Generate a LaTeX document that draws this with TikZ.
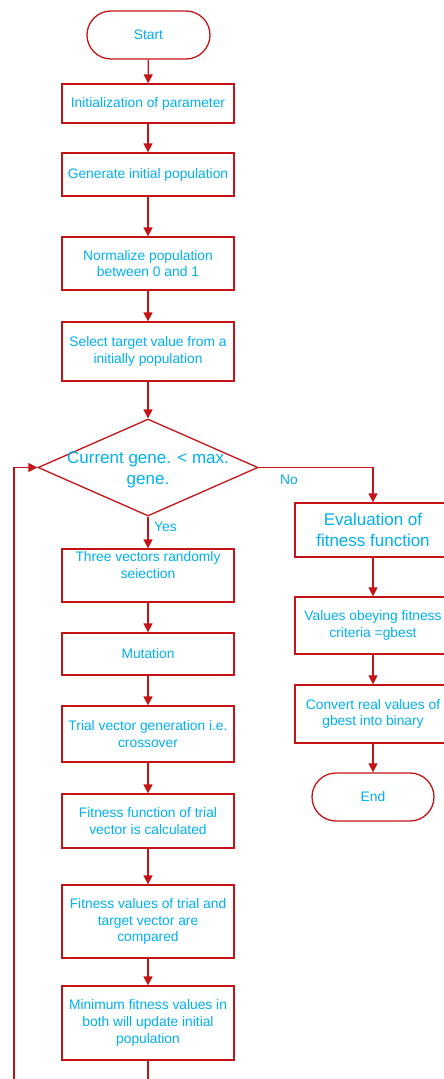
\documentclass[tikz,border=0pt]{standalone}
\usepackage{fontspec}
\setmainfont{Liberation Sans}
\usetikzlibrary{arrows.meta,shapes.geometric,shapes.misc}
\definecolor{lred}{RGB}{196,20,24}
\definecolor{tcyan}{RGB}{0,176,240}
\tikzset{
  box/.style={draw=lred,line width=1.3pt,rectangle,align=center,text=tcyan,inner sep=1pt,
    font=\fontsize{13.8}{16.7}\selectfont},
  term/.style={draw=lred,line width=1.3pt,rounded rectangle,text=tcyan,inner sep=0pt,
    font=\fontsize{13.8}{16.7}\selectfont},
  conn/.style={draw=lred,line width=1.3pt,-{Triangle[width=9pt,length=9pt]}},
  lbl/.style={text=tcyan,font=\fontsize{13.8}{16.7}\selectfont,inner sep=0pt},
  big/.style={font=\fontsize{17}{21.5}\selectfont}
}
\begin{document}
\begin{tikzpicture}[x=1pt,y=-1pt]
\fill[white] (0,0) rectangle (444,1079);
\useasboundingbox (0,0) rectangle (444,1079);
\clip (0,0) rectangle (444,1079);

\node[term,minimum width=123pt,minimum height=48pt] (start) at (148.5,35) {Start};
\node[box,minimum width=172pt,minimum height=39pt] (init) at (148,103.5) {Initialization of parameter};
\node[box,minimum width=172pt,minimum height=43pt] (gen) at (148,174.5) {Generate initial population};
\node[box,minimum width=172pt,minimum height=53pt] (norm) at (148,263.5) {Normalize population\\between 0 and 1};
\node[box,minimum width=172pt,minimum height=59pt] (sel) at (148,351.5) {Select target value from a\\initially population};
\node[draw=lred,line width=1.3pt,diamond,minimum width=220pt,minimum height=97pt,inner sep=0pt] (dec) at (148,467.5) {};
\node[lbl,big,align=center] (dectext) at (148,470) {Current gene. {<} max.\\gene.};
\node[box,minimum width=172pt,minimum height=53pt] (vec) at (148,575.5) {};
\node[lbl,align=center,anchor=north] (vectext) at (148,551.5) {Three vectors randomly\\seiection};
\node[box,minimum width=172pt,minimum height=42pt] (mut) at (148,654) {Mutation};
\node[box,minimum width=172pt,minimum height=56pt] (trial) at (148,734) {Trial vector generation i.e.\\crossover};
\node[box,minimum width=172pt,minimum height=54pt] (fitf) at (148,821) {Fitness function of trial\\vector is calculated};
\node[box,minimum width=172pt,minimum height=73pt] (fitv) at (148,921.5) {Fitness values of trial and\\target vector are\\compared};
\node[box,minimum width=172pt,minimum height=74pt] (minv) at (148,1023) {Minimum fitness values in\\both will update initial\\population};

\node[box,big,minimum width=156pt,minimum height=54pt] (eval) at (373,530) {Evaluation of\\fitness function};
\node[box,minimum width=156pt,minimum height=57pt] (vals) at (373,625.5) {Values obeying fitness\\criteria =gbest};
\node[box,minimum width=156pt,minimum height=58pt] (conv) at (373,714) {Convert real values of\\gbest into binary};
\node[term,minimum width=122pt,minimum height=48pt] (end) at (373,797) {End};

\node[lbl,anchor=west] (yes) at (154,527) {Yes};
\node[lbl,anchor=west] (no) at (280,479.5) {No};

\coordinate (lb) at (148,1110);
\coordinate (ll) at (14,1110);

\draw[conn] (start) -- (init);
\draw[conn] (init) -- (gen);
\draw[conn] (gen) -- (norm);
\draw[conn] (norm) -- (sel);
\draw[conn] (sel) -- (dec.north);
\draw[conn] (dec.south) -- (vec);
\draw[conn] (vec) -- (mut);
\draw[conn] (mut) -- (trial);
\draw[conn] (trial) -- (fitf);
\draw[conn] (fitf) -- (fitv);
\draw[conn] (fitv) -- (minv);
\draw[conn] (dec.east) -| (eval.north);
\draw[conn] (eval) -- (vals);
\draw[conn] (vals) -- (conv);
\draw[conn] (conv) -- (end);
\draw[conn] (minv.south) -- (lb) -- (ll) |- (dec.west);
\end{tikzpicture}
\end{document}
